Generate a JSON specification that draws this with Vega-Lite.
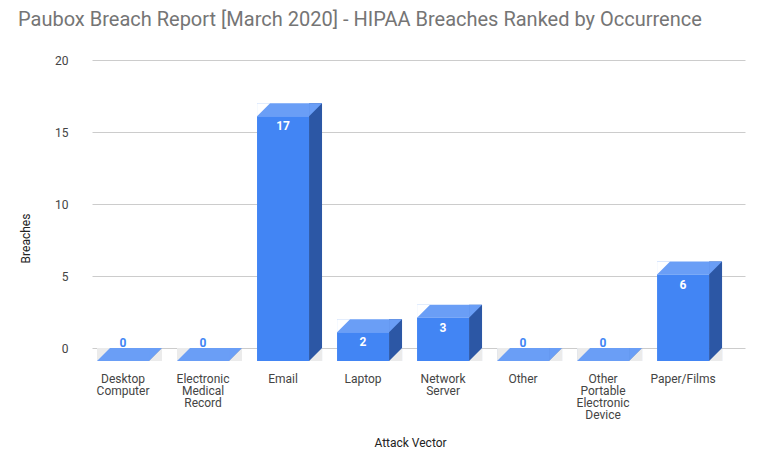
{
  "$schema": "https://vega.github.io/schema/vega-lite/v6.json",
  "width": 653,
  "height": 288,
  "autosize": "none",
  "padding": {"left": 92, "top": 60, "right": 18, "bottom": 121},
  "background": "white",
  "title": {
    "text": "Paubox Breach Report [March 2020] - HIPAA Breaches Ranked by Occurrence",
    "anchor": "start",
    "frame": "group",
    "font": "Roboto",
    "fontSize": 20,
    "fontWeight": "normal",
    "color": "#757575",
    "dx": -74,
    "offset": 24
  },
  "config": {
    "view": {"stroke": null},
    "font": "Roboto"
  },
  "data": {
    "values": [
      {"vector": "Desktop Computer", "value": 0},
      {"vector": "Electronic Medical Record", "value": 0},
      {"vector": "Email", "value": 17},
      {"vector": "Laptop", "value": 2},
      {"vector": "Network Server", "value": 3},
      {"vector": "Other", "value": 0},
      {"vector": "Other Portable Electronic Device", "value": 0},
      {"vector": "Paper/Films", "value": 6}
    ]
  },
  "encoding": {
    "x": {
      "field": "vector",
      "type": "nominal",
      "sort": null,
      "scale": {"paddingInner": 0.35, "paddingOuter": 0.256, "align": 0.44},
      "axis": {
        "title": "Attack Vector",
        "titleFont": "Roboto",
        "titleFontSize": 12,
        "titleFontWeight": "normal",
        "titleColor": "#222222",
        "titleX": 318,
        "titleY": 94,
        "titleBaseline": "middle",
        "labelAngle": 0,
        "labelOffset": -13,
        "labelPadding": 25,
        "labelFont": "Roboto",
        "labelFontSize": 12,
        "labelColor": "#444444",
        "labelLineHeight": 12,
        "labelExpr": "split(datum.label, ' ')",
        "ticks": false,
        "domain": false
      }
    },
    "y": {
      "field": "value",
      "type": "quantitative",
      "scale": {"domain": [0, 20], "nice": false},
      "axis": {
        "title": "Breaches",
        "titleFont": "Roboto",
        "titleFontSize": 12,
        "titleFontWeight": "normal",
        "titleColor": "#222222",
        "titleX": -67,
        "titleY": 178,
        "titleAlign": "center",
        "titleBaseline": "middle",
        "values": [0, 5, 10, 15, 20],
        "labelFont": "Roboto",
        "labelFontSize": 12,
        "labelColor": "#444444",
        "labelPadding": 24,
        "gridColor": "#cccccc",
        "ticks": false,
        "domain": false
      }
    }
  },
  "layer": [
    {
      "data": {"values": [{"floor": 1}]},
      "mark": {"type": "rect", "color": "#ebebeb", "xOffset": -18, "y2Offset": 18},
      "encoding": {
        "x": {"value": 0},
        "x2": {"value": "width"},
        "y": {"datum": 0},
        "y2": {"datum": 0}
      }
    },
    {
      "data": {"values": [{"floor": 1}]},
      "mark": {"type": "point", "filled": true, "opacity": 1, "strokeWidth": 0, "shape": "M-1,-1L1,-1L-1,1Z", "size": 324, "color": "white", "xOffset": -9, "yOffset": 9},
      "encoding": {"x": {"value": 0}, "y": {"datum": 0}}
    },
    {
      "data": {"values": [{"floor": 1}]},
      "mark": {"type": "point", "filled": true, "opacity": 1, "strokeWidth": 0, "shape": "M1,-1L1,1L-1,1Z", "size": 324, "color": "white", "xOffset": -9, "yOffset": 9},
      "encoding": {"x": {"value": "width"}, "y": {"datum": 0}}
    },
    {
      "data": {"values": [{"floor": 1}]},
      "mark": {"type": "rule", "color": "#333333", "strokeWidth": 1},
      "encoding": {"x": {"value": 0}, "x2": {"value": "width"}, "y": {"datum": 0}}
    },
    {
      "mark": {"type": "bar", "width": 13, "xOffset": 19.5, "y2Offset": 13, "color": "#2c57a5"},
      "encoding": {"y2": {"datum": 0}}
    },
    {
      "mark": {"type": "point", "filled": true, "opacity": 1, "strokeWidth": 0, "shape": "M-1,-1L1,-1L-1,1Z", "size": 169, "color": "#6a9ef6", "xOffset": 19.5, "yOffset": 6.5}
    },
    {
      "mark": {"type": "bar", "width": 52, "xOffset": -13, "y2Offset": 13, "color": "#6a9ef6"},
      "encoding": {"y2": {"field": "value"}}
    },
    {
      "mark": {"type": "point", "filled": true, "opacity": 1, "strokeWidth": 0, "shape": "M-1,-1L1,-1L-1,1Z", "size": 169, "xOffset": -32.5, "yOffset": 6.5},
      "encoding": {
        "color": {"condition": {"test": "datum.value == 0", "value": "#ebebeb"}, "value": "white"}
      }
    },
    {
      "mark": {"type": "point", "filled": true, "opacity": 1, "strokeWidth": 0, "shape": "M1,-1L1,1L-1,1Z", "size": 169, "color": "#ebebeb", "xOffset": 19.5, "yOffset": 6.5},
      "encoding": {"y": {"datum": 0}}
    },
    {
      "mark": {"type": "bar", "width": 52, "xOffset": -13, "yOffset": 13, "y2Offset": 13, "color": "#4285f4"},
      "encoding": {"y2": {"datum": 0}}
    },
    {
      "transform": [{"filter": "datum.value > 0"}],
      "mark": {"type": "text", "font": "Roboto", "fontSize": 12, "fontWeight": "bold", "color": "white", "baseline": "middle", "xOffset": -13, "yOffset": 23},
      "encoding": {"text": {"field": "value", "type": "quantitative"}}
    },
    {
      "transform": [{"filter": "datum.value == 0"}],
      "mark": {"type": "text", "font": "Roboto", "fontSize": 12, "fontWeight": "bold", "color": "#4285f4", "baseline": "middle", "xOffset": -13, "yOffset": -5},
      "encoding": {"text": {"field": "value", "type": "quantitative"}}
    }
  ]
}
